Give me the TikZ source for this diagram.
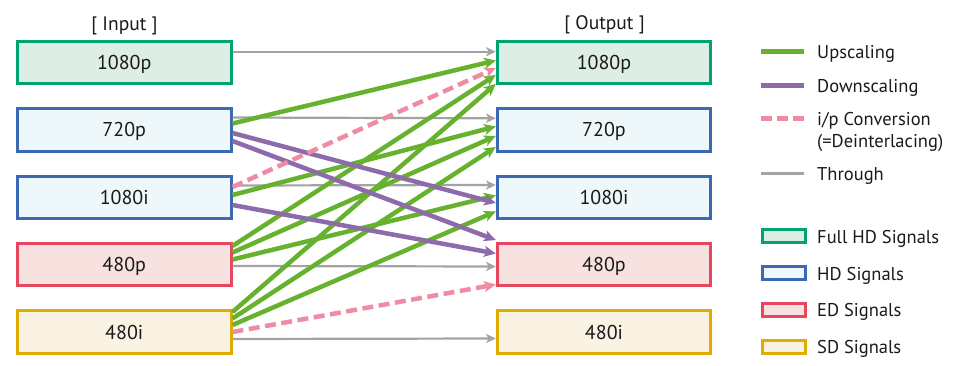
\documentclass[tikz,border=0pt]{standalone}
\usepackage{fontspec}
\setmainfont{PT Sans}
\usetikzlibrary{arrows.meta,calc}
\definecolor{fhdB}{HTML}{00A472}
\definecolor{fhdF}{HTML}{DDEEE4}
\definecolor{hdB}{HTML}{3B69B3}
\definecolor{hdF}{HTML}{EEF8FA}
\definecolor{edB}{HTML}{E8465F}
\definecolor{edF}{HTML}{F8E2DF}
\definecolor{sdB}{HTML}{E1AB00}
\definecolor{sdF}{HTML}{FAF3E3}
\definecolor{upC}{HTML}{66B22E}
\definecolor{downC}{HTML}{8D6BAB}
\definecolor{ipC}{HTML}{EE8CA3}
\definecolor{thrC}{HTML}{A3A3A3}
\definecolor{txtC}{HTML}{1A1A1A}
\begin{document}
\begin{tikzpicture}[x=1pt,y=-1pt,
  lbl/.style={font=\fontsize{18.5}{22}\selectfont, text=txtC, inner sep=0pt, text height=13pt, text depth=0pt},
  sig/.style={lbl, font=\fontsize{20}{22}\selectfont, text height=14pt, draw, line width=3pt, minimum width=213.5pt, minimum height=42.5pt},
  fhd/.style={sig, draw=fhdB, fill=fhdF},
  hd/.style={sig, draw=hdB, fill=hdF},
  ed/.style={sig, draw=edB, fill=edF},
  sd/.style={sig, draw=sdB, fill=sdF},
  keybox/.style={draw, line width=3pt, minimum width=42.7pt, minimum height=12.7pt, inner sep=0pt},
  keytext/.style={lbl, anchor=west},
  title/.style={font=\fontsize{19.5}{22}\selectfont, text=txtC, inner sep=0pt, text height=13.7pt, text depth=0pt},
  thr/.style={draw=thrC, line width=2.2pt, -{Stealth[length=10pt,width=9.5pt,inset=3pt,line width=0pt]}},
  up/.style={draw=upC, line width=4.5pt, -{Stealth[length=12pt,width=11.5pt,inset=3.5pt,line width=0pt]}},
  down/.style={draw=downC, line width=4.5pt, -{Stealth[length=12pt,width=11.5pt,inset=3.5pt,line width=0pt]}},
  ipc/.style={draw=ipC, line width=4.5pt, dash pattern=on 11pt off 5.5pt, -{Stealth[length=12pt,width=11.5pt,inset=3.5pt,line width=0pt]}},
  keyline/.style={line width=5pt},
]
\useasboundingbox (0,0) rectangle (958,366);

% titles
\node[title] (tin) at (124.5,23.3) {[ Input ]};
\node[title] (tout) at (604.5,22.8) {[ Output ]};

% input boxes
\node[fhd] (i1080p) at (124.25,62.5) {1080p};
\node[hd]  (i720)   at (124.25,129.9) {720p};
\node[hd]  (i1080i) at (124.25,197.3) {1080i};
\node[ed]  (i480p)  at (124.25,264.7) {480p};
\node[sd]  (i480i)  at (124.25,332.1) {480i};

% output boxes
\node[fhd] (o1080p) at (604,62.5) {1080p};
\node[hd]  (o720)   at (604,129.9) {720p};
\node[hd]  (o1080i) at (604,197.3) {1080i};
\node[ed]  (o480p)  at (604,264.7) {480p};
\node[sd]  (o480i)  at (604,332.1) {480i};

% through
\draw[thr] ($(i1080p.east)+(0,-10.8)$) -- ($(o1080p.west)+(0,-10.8)$);
\draw[thr] ($(i720.east)+(0,-12.4)$) -- ($(o720.west)+(0,-11.6)$);
\draw[thr] ($(i1080i.east)+(0,-11.8)$) -- ($(o1080i.west)+(0,-12.3)$);
\draw[thr] ($(i480p.east)+(0,1.3)$) -- ($(o480p.west)+(0,1.8)$);
\draw[thr] ($(i480i.east)+(0,6.9)$) -- ($(o480i.west)+(0,6.4)$);

% upscaling
\draw[up] ($(i720.east)+(0,-6.4)$) -- ($(o1080p.west)+(0,-2)$);
\draw[up] ($(i1080i.east)+(0,-2.3)$) -- ($(o720.west)+(0,-3.4)$);
\draw[up] ($(i480p.east)+(0,-18.7)$) -- ($(o1080p.west)+(0,12.5)$);
\draw[up] ($(i480p.east)+(0,-12.2)$) -- ($(o720.west)+(0,6.1)$);
\draw[up] ($(i480p.east)+(0,-5.2)$) -- ($(o1080i.west)+(0,-1.8)$);
\draw[up] ($(i480i.east)+(0,-20.1)$) -- ($(o1080p.west)+(0,21.5)$);
\draw[up] ($(i480i.east)+(0,-13.6)$) -- ($(o720.west)+(0,17.1)$);
\draw[up] ($(i480i.east)+(0,-7.1)$) -- ($(o1080i.west)+(0,14.2)$);

% downscaling
\draw[down] ($(i720.east)+(0,3.1)$) -- ($(o1080i.west)+(0,5.7)$);
\draw[down] ($(i720.east)+(0,11.1)$) -- ($(o480p.west)+(0,-24.7)$);
\draw[down] ($(i1080i.east)+(0,7.7)$) -- ($(o480p.west)+(0,-11.2)$);

% i/p conversion
\draw[ipc] ($(i1080i.east)+(0,-10.3)$) -- ($(o1080p.west)+(0,5.5)$);
\draw[ipc] ($(i480i.east)+(0,-0.1)$) -- ($(o480p.west)+(0,19.8)$);

% legend: lines
\draw[keyline, upC] (761,51.7) -- (804,51.7);
\node[keytext] (kup) at (817,51.7) {Upscaling};
\draw[keyline, downC] (761,85.7) -- (804,85.7);
\node[keytext] (kdown) at (817,85.7) {Downscaling};
\draw[keyline, ipC, dash pattern=on 11pt off 5pt] (761,119) -- (804,119);
\node[keytext] (kip) at (817,119.5) {i/p Conversion};
\node[keytext] (kip2) at (817,141.5) {(=Deinterlacing)};
\draw[keyline, thrC, line width=3pt] (761,174) -- (804,174);
\node[keytext] (kthr) at (817,173.7) {Through};

% legend: boxes
\node[keybox, draw=fhdB, fill=fhdF] (bfhd) at (783.7,236) {};
\node[keytext] (tfhd) at (817,236.5) {Full HD Signals};
\node[keybox, draw=hdB, fill=hdF] (bhd) at (783.7,273.3) {};
\node[keytext] (thd) at (817,273.5) {HD Signals};
\node[keybox, draw=edB, fill=edF] (bed) at (783.7,310) {};
\node[keytext] (ted) at (817,310.3) {ED Signals};
\node[keybox, draw=sdB, fill=sdF] (bsd) at (783.7,347) {};
\node[keytext] (tsd) at (817,347.2) {SD Signals};
\end{tikzpicture}
\end{document}
